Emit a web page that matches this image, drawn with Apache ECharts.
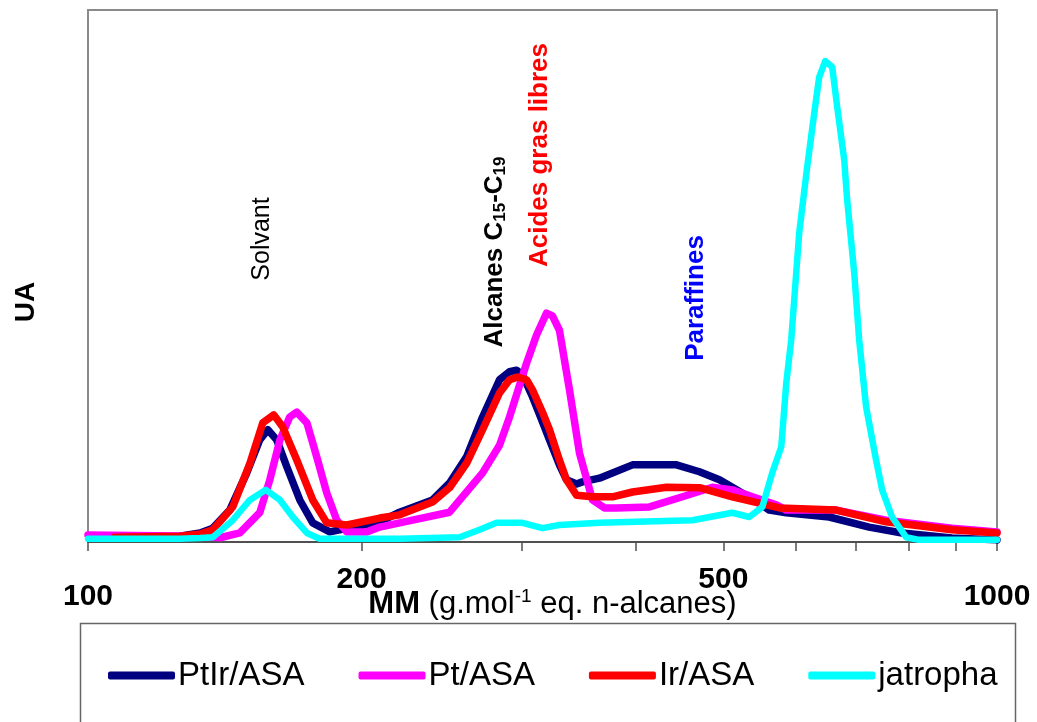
<!DOCTYPE html>
<html>
<head>
<meta charset="utf-8">
<script src="https://cdn.jsdelivr.net/npm/echarts@6/dist/echarts.min.js"></script>
<style>html,body{margin:0;padding:0;background:#fff}#c{width:1037px;height:722px}</style>
</head>
<body>
<div id="c"></div>
<script>
// Molar mass (g/mol eq. n-alkanes) and detector response (UA)
const ptirMM = [107,117,126.2,132.8,137.2,143.2,149.5,154.5,157.7,161.3,165.5,171.0,176.7,184.5,195.6,209.4,220.2,239.3,249.9,260.9,271.7,283.6,290.9,296.1,300.6,308.3,316.2,321.9,330.1,336.0,344.7,349.9,365.3,397.2,444.0,470.6,495.0,511.5,547.7,561.7,586.4,653.8,723.3,786.3,892.1,1000];
const ptirUA = [0.9,0.9,1.1,1.7,2.6,6.0,13.0,19.2,21.1,19.2,14.1,7.9,3.6,1.9,2.8,3.8,5.6,7.9,11.1,16.0,23.5,30.5,32.0,32.3,31.4,27.3,22.6,19.2,14.5,11.7,10.9,11.3,12.0,14.5,14.5,13.2,11.7,10.3,7.3,6.0,5.5,4.7,2.8,1.7,0.75,0.4];

const ptMM = [100,132.8,139.7,146.9,154.5,158.5,162.6,166.7,169.7,174.1,178.5,183.1,187.8,192.6,202.6,209.4,220.2,249.9,271.7,283.6,290.9,303.7,311.5,319.4,324.3,330.1,338.6,347.3,358.9,369.9,381.4,414.7,450.8,486.3,511.5,538.1,571.7,586.4,665.5,755.1,892.1,1000];
const ptUA = [1.3,1.1,0.8,1.7,5.5,11.7,19.2,23.5,24.4,22.4,16.0,9.2,4.1,1.9,1.9,2.8,3.6,5.6,13.0,18.2,23.5,33.6,38.9,43.0,42.5,39.8,28.6,16.7,7.9,6.4,6.4,6.6,8.5,10.3,9.8,8.5,7.0,6.0,6.0,4.1,2.6,1.9];

const irMM = [107,126.2,132.8,137.2,144.3,150.7,155.7,160.1,163.8,169.7,176.7,183.1,192.6,209.4,220.2,239.3,249.9,260.9,271.7,283.6,290.9,296.8,303.7,308.3,316.2,321.9,330.1,336.0,344.7,358.9,377.6,397.2,432.9,470.6,511.5,547.7,576.0,665.5,755.1,892.1,1000];
const irUA = [0.9,1.1,1.5,2.3,6.6,14.8,22.4,23.9,21.6,15.4,7.9,3.6,3.2,4.5,5.1,7.5,10.2,14.8,21.1,28.0,30.5,31.0,30.5,28.6,24.4,21.1,15.4,11.7,8.8,8.5,8.5,9.4,10.3,10.2,8.5,7.3,6.4,6.0,3.8,2.3,1.7];

const jatMM = [100,126.2,132.8,137.2,144.3,150.7,156.9,162.6,168.0,174.1,179.8,220.2,256.3,269.6,281.5,300.6,316.2,330.1,365.3,462.3,511.5,534.0,551.9,565.9,579.0,586.4,593.8,605.9,618.3,629.4,637.4,647.1,658.7,667.1,679.1,684.2,696.5,705.3,717.8,736.2,747.5,766.6,794.3,820.8,1000];
const jatUA = [0.6,0.6,0.75,0.9,4.1,7.9,9.8,7.9,4.7,1.7,0.6,0.6,0.9,2.3,3.6,3.6,2.6,3.2,3.6,4.1,5.5,4.7,6.6,13.0,17.9,29.9,38.0,58.1,70.5,80.6,87.4,90.4,89.3,81.8,71.8,64.3,50.6,38.0,25.4,15.4,9.8,4.7,0.9,0.4,0.4];

const seriesNames = ['PtIr/ASA','Pt/ASA','Ir/ASA','jatropha'];
const tickValues = [100,200,300,400,500,600,700,800,900,1000];
const labelValues = [100,200,500,1000];
const lowLabels = [100,1000];

const colors = ['#000080','#FF00FF','#FF0000','#00FFFF'];
const FONT = 'Arial, "Liberation Sans", sans-serif';

function pts(mm, ua){ return mm.map((m,i)=>[Math.log10(m), ua[i]]); }
const allData = [pts(ptirMM,ptirUA), pts(ptMM,ptUA), pts(irMM,irUA), pts(jatMM,jatUA)];

const chart = echarts.init(document.getElementById('c'));
const xMin = Math.log10(100), xMax = Math.log10(1000);
chart.setOption({
  backgroundColor:'#fff',
  animation:false,
  grid:{left:88,right:40,top:10,bottom:180,show:true,borderColor:'#8a8a8a',borderWidth:2,backgroundColor:'transparent'},
  xAxis:{
    type:'value', min:xMin, max:xMax,
    axisLine:{show:true,lineStyle:{color:'#505050',width:2}},
    axisTick:{show:true,inside:false,length:9,lineStyle:{color:'#505050',width:1.5},customValues:tickValues.map(v=>Math.log10(v))},
    splitLine:{show:false},
    axisLabel:{
      customValues:labelValues.map(v=>Math.log10(v)),
      margin:23,
      formatter:function(v){ const n=Math.round(Math.pow(10,v)); return lowLabels.indexOf(n)>=0 ? '{lo|'+n+'}' : '{hi|'+n+'}'; },
      rich:{
        lo:{fontSize:30,fontWeight:'bold',fontFamily:FONT,color:'#000',padding:[17,0,0,0]},
        hi:{fontSize:30,fontWeight:'bold',fontFamily:FONT,color:'#000'}
      }
    },
    name:'{b|MM}{n| (g.mol}{s|-1}{n| eq. n-alcanes)}',
    nameLocation:'middle', nameGap:45, nameMoveOverlap:false,
    nameTextStyle:{
      padding:[0,0,0,20],
      rich:{
        b:{fontSize:31,fontWeight:'bold',fontFamily:FONT,color:'#000',lineHeight:34},
        n:{fontSize:31,fontFamily:FONT,color:'#000',lineHeight:34},
        s:{fontSize:19,fontFamily:FONT,color:'#000',verticalAlign:'top',lineHeight:34}
      }
    }
  },
  yAxis:{type:'value',min:0,max:100,show:false},
  legend:{
    data:seriesNames, left:103, top:654, itemWidth:67, itemHeight:8, itemGap:54,
    icon:'roundRect',
    textStyle:{fontSize:33,fontFamily:FONT,color:'#000',padding:[0,0,0,-2]}
  },
  series: seriesNames.map((n,i)=>({
    name:n, type:'line', data:allData[i], showSymbol:false, symbol:'none',
    color:colors[i],
    lineStyle:{color:colors[i],width:i===3?6.5:7.5,join:'round',cap:'round'},
    z:2+i
  })),
  graphic:[
    {type:'rect',shape:{x:80.5,y:623.5,width:935,height:120},style:{fill:'none',stroke:'#666',lineWidth:1.5},silent:true},
    {type:'text',x:26,y:302,rotation:Math.PI/2,style:{text:'UA',font:'bold 28px '+FONT,fill:'#000',align:'center',verticalAlign:'middle'}},
    {type:'text',x:262,y:239,rotation:Math.PI/2,style:{text:'Solvant',font:'25px '+FONT,fill:'#000',align:'center',verticalAlign:'middle'}},
    {type:'text',x:495,y:252,rotation:Math.PI/2,style:{
      text:'{b|Alcanes C}{s|15}{b|-C}{s|19}',align:'center',verticalAlign:'middle',
      rich:{b:{font:'bold 26px '+FONT,fill:'#000',lineHeight:28},s:{font:'bold 17px '+FONT,fill:'#000',verticalAlign:'bottom',lineHeight:28}}}},
    {type:'text',x:540,y:155,rotation:Math.PI/2,style:{text:'Acides gras libres',font:'bold 26px '+FONT,fill:'#FF0000',align:'center',verticalAlign:'middle'}},
    {type:'text',x:696,y:298,rotation:Math.PI/2,style:{text:'Paraffines',font:'bold 26px '+FONT,fill:'#0000FF',align:'center',verticalAlign:'middle'}}
  ]
});
</script>
</body>
</html>
